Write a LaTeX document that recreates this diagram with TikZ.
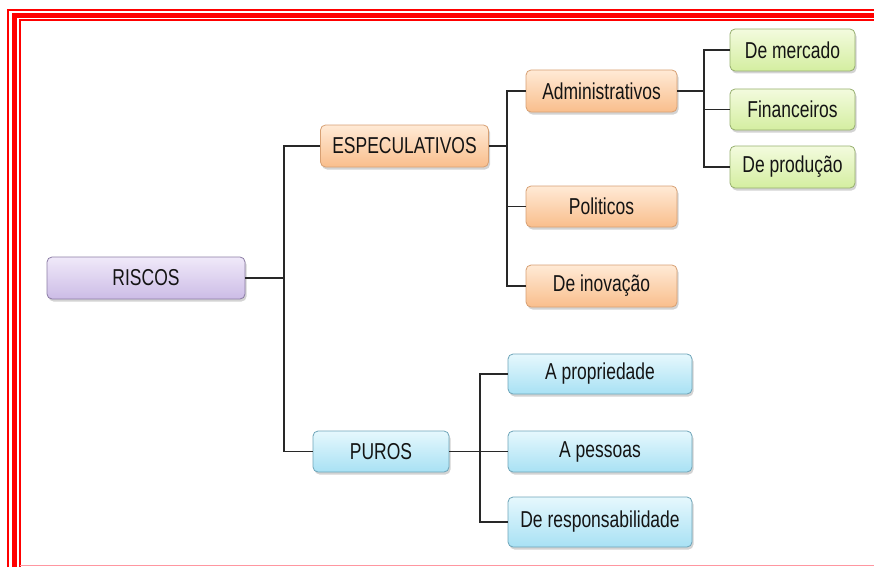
\documentclass[tikz,border=0pt]{standalone}
\usepackage{fontspec}
\setmainfont[FakeStretch=0.76]{Liberation Sans}
\usetikzlibrary{shadows}
\definecolor{txt}{RGB}{20,20,20}
\definecolor{conn}{RGB}{40,40,40}
\definecolor{framered}{RGB}{255,0,0}
\definecolor{framepink}{RGB}{255,150,160}
\definecolor{purT}{RGB}{240,233,249}
\definecolor{purB}{RGB}{204,188,230}
\definecolor{purD}{RGB}{140,125,165}
\definecolor{orT}{RGB}{255,234,214}
\definecolor{orB}{RGB}{249,190,140}
\definecolor{orD}{RGB}{215,160,115}
\definecolor{grT}{RGB}{243,251,222}
\definecolor{grB}{RGB}{212,238,160}
\definecolor{grD}{RGB}{150,175,110}
\definecolor{blT}{RGB}{230,248,253}
\definecolor{blB}{RGB}{168,225,244}
\definecolor{blD}{RGB}{110,165,185}
\tikzset{
  box/.style={rounded corners=5pt, line width=0.8pt, text=txt,
    font=\fontsize{23}{26}\selectfont, inner sep=0pt,
    drop shadow={opacity=0.35, shadow xshift=1.5pt, shadow yshift=-2.5pt}},
  purbox/.style={box, draw=purD, top color=purT, bottom color=purB},
  orbox/.style={box, draw=orD, top color=orT, bottom color=orB},
  grbox/.style={box, draw=grD, top color=grT, bottom color=grB},
  blbox/.style={box, draw=blD, top color=blT, bottom color=blB},
  conn/.style={draw=conn, line width=1.4pt},
}
\begin{document}
\begin{tikzpicture}[x=1pt,y=-1pt]
\useasboundingbox (0,0) rectangle (874,567);
% frame
\draw[framered, line width=2pt] (8,567) -- (8,10.5) -- (874,10.5);
\draw[framered, line width=4.5pt] (14.5,567) -- (14.5,15.5) -- (874,15.5);
\draw[framered, line width=2pt] (19.5,567) -- (19.5,20.5) -- (874,20.5);
\draw[framepink, line width=1.8pt] (19.5,565.5) -- (874,565.5);
% nodes
\node[purbox, minimum width=198pt, minimum height=42pt] (riscos) at (146,278) {RISCOS};
\node[orbox, minimum width=168pt, minimum height=42pt] (esp) at (404.5,146) {ESPECULATIVOS};
\node[orbox, minimum width=151pt, minimum height=42pt] (adm) at (601.5,91) {Administrativos};
\node[orbox, minimum width=151pt, minimum height=41pt] (pol) at (601.5,206.5) {Politicos};
\node[orbox, minimum width=151pt, minimum height=42pt] (ino) at (601.5,286) {De inovação};
\node[grbox, minimum width=125pt, minimum height=42pt] (mer) at (792.5,50) {De mercado};
\node[grbox, minimum width=125pt, minimum height=41pt] (fin) at (792.5,109.5) {Financeiros};
\node[grbox, minimum width=125pt, minimum height=42pt] (pro) at (792.5,167) {De produção};
\node[blbox, minimum width=136pt, minimum height=41pt] (pur) at (381,451.5) {PUROS};
\node[blbox, minimum width=184pt, minimum height=40pt] (prop) at (600,374) {A propriedade};
\node[blbox, minimum width=184pt, minimum height=41pt] (pes) at (600,451.5) {A pessoas};
\node[blbox, minimum width=184pt, minimum height=50pt] (resp) at (600,522) {De responsabilidade};
% connectors
\coordinate (j1) at (284,278);
\draw[conn] (riscos.east) -- (j1);
\draw[conn] (esp.west) -| (j1) |- (pur.west);
\coordinate (j2) at (507,146);
\draw[conn] (esp.east) -- (j2);
\draw[conn] (adm.west) -| (j2) |- (ino.west);
\draw[conn] (j2) |- (pol.west);
\coordinate (j3) at (704,91);
\draw[conn] (adm.east) -- (j3);
\draw[conn] (mer.west) -| (j3) |- (pro.west);
\draw[conn] (j3) |- (fin.west);
\coordinate (j4) at (480,451.5);
\draw[conn] (pur.east) -- (pes.west);
\draw[conn] (prop.west) -| (j4) |- (resp.west);
\end{tikzpicture}
\end{document}
